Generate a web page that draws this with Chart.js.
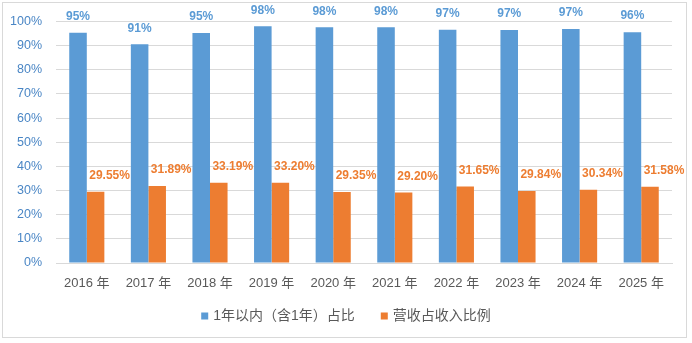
<!DOCTYPE html>
<html><head><meta charset="utf-8">
<script src="https://cdn.jsdelivr.net/npm/chart.js@4/dist/chart.umd.min.js"></script>
<style>
html,body{margin:0;padding:0;background:#fff;}
#wrap{position:relative;width:692px;height:343px;}
#frame{position:absolute;left:2px;top:2px;width:685px;height:336px;border:1px solid #d9d9d9;box-sizing:border-box;pointer-events:none;}
</style>
</head><body>
<div id="wrap"><canvas id="c" width="692" height="343"></canvas><div id="frame"></div></div>
<script>
const categories = ['2016 年','2017 年','2018 年','2019 年','2020 年','2021 年','2022 年','2023 年','2024 年','2025 年'];
const withinOneYear = [95.3, 90.6, 95.2, 98.0, 97.6, 97.6, 96.6, 96.5, 96.9, 95.6];
const revenueShare = [29.55, 31.89, 33.19, 33.20, 29.35, 29.20, 31.65, 29.84, 30.34, 31.58];
const seriesNames = ['1年以内（含1年）占比', '营收占收入比例'];
const yTicks = [0,10,20,30,40,50,60,70,80,90,100];

const FONT = '"Liberation Sans", Arial, "Noto Sans CJK SC", sans-serif';

const labelPlugin = {
  id: 'barLabels',
  afterDatasetsDraw(chart) {
    const ctx = chart.ctx;
    ctx.save();
    ctx.font = 'bold 12px ' + FONT;
    ctx.textAlign = 'center';
    ctx.textBaseline = 'middle';
    chart.data.datasets.forEach((ds, di) => {
      const meta = chart.getDatasetMeta(di);
      meta.data.forEach((bar, i) => {
        const v = ds.data[i];
        let txt, dx;
        if (di === 0) { txt = Math.round(v) + '%'; dx = 0; ctx.fillStyle = '#5b9bd5'; }
        else { txt = v.toFixed(2) + '%'; dx = 14; ctx.fillStyle = '#ed7d31'; }
        ctx.fillText(txt, bar.x + dx, bar.y - 16);
      });
    });
    ctx.restore();
  }
};

const legendPlugin = {
  id: 'bottomLegend',
  afterDraw(chart) {
    const ctx = chart.ctx;
    ctx.save();
    ctx.font = '14px ' + FONT;
    ctx.textBaseline = 'middle';
    const box = 7, gapText = 5, gapItem = 26, y = 316;
    const items = chart.data.datasets.map(ds => ({ text: ds.label, color: ds.backgroundColor, w: ctx.measureText(ds.label).width }));
    let total = 0;
    items.forEach((it, i) => { total += box + gapText + it.w + (i ? gapItem : 0); });
    let x = chart.width / 2 - total / 2;
    items.forEach((it, i) => {
      if (i) x += gapItem;
      ctx.fillStyle = it.color;
      ctx.fillRect(x, y - box / 2, box, box);
      x += box + gapText;
      ctx.fillStyle = '#595959';
      ctx.fillText(it.text, x, y);
      x += it.w;
    });
    ctx.restore();
  }
};

new Chart(document.getElementById('c'), {
  type: 'bar',
  data: {
    labels: categories,
    datasets: [
      { label: seriesNames[0], data: withinOneYear, backgroundColor: '#5b9bd5', categoryPercentage: 0.57, barPercentage: 1.0 },
      { label: seriesNames[1], data: revenueShare, backgroundColor: '#ed7d31', categoryPercentage: 0.57, barPercentage: 1.0 }
    ]
  },
  options: {
    responsive: false,
    animation: false,
    layout: { padding: { top: 19, right: 0, left: 0, bottom: 0 } },
    plugins: {
      tooltip: { enabled: false },
      legend: { display: false }
    },
    scales: {
      x: {
        grid: { display: false, drawTicks: false },
        border: { display: true, color: '#d9d9d9' },
        ticks: { color: '#595959', padding: 13, font: { size: 13, family: FONT }, maxRotation: 0 },
        afterFit(s) { s.height = 80; }
      },
      y: {
        min: 0, max: 100,
        afterBuildTicks(s) { s.ticks = yTicks.map(v => ({ value: v })); },
        grid: { color: '#d9d9d9', drawTicks: false },
        border: { display: false },
        ticks: { color: '#4a86c5', padding: 14, font: { size: 12.5, family: FONT }, callback: v => v + '%' },
        afterFit(s) { s.width = 56; }
      },
      y2: {
        position: 'right',
        display: true,
        grid: { display: false, drawTicks: false },
        border: { display: false },
        ticks: { display: false },
        afterFit(s) { s.width = 20; }
      }
    }
  },
  plugins: [labelPlugin, legendPlugin]
});
</script>
</body></html>
